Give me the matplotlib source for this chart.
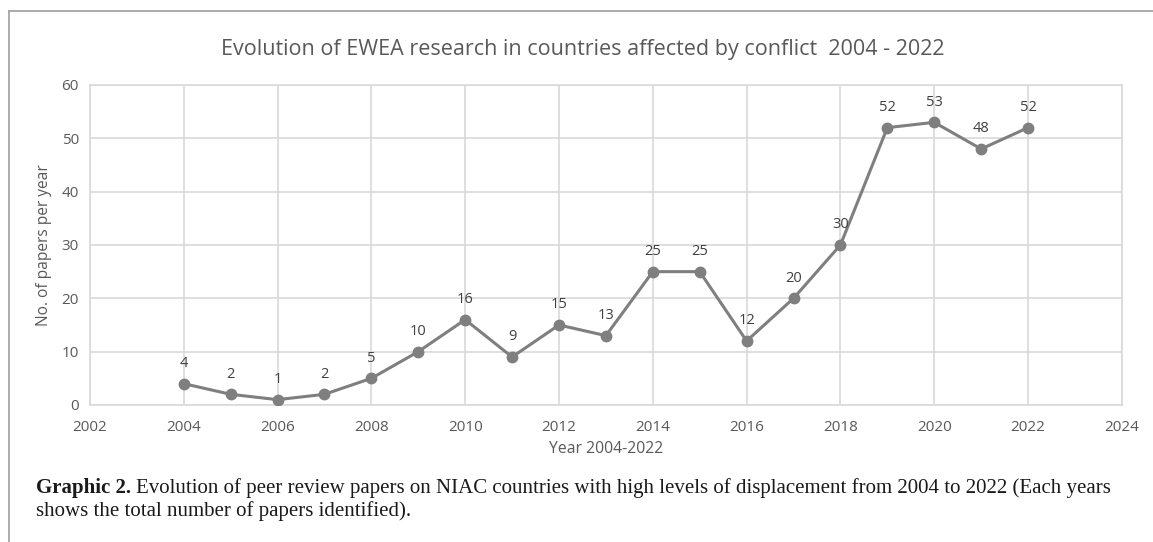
import matplotlib
matplotlib.use("Agg")
import matplotlib.pyplot as plt
from matplotlib.lines import Line2D

# papers per year, 2004-2022
years = [2004, 2005, 2006, 2007, 2008, 2009, 2010, 2011, 2012, 2013,
         2014, 2015, 2016, 2017, 2018, 2019, 2020, 2021, 2022]
papers = [4, 2, 1, 2, 5, 10, 16, 9, 15, 13,
          25, 25, 12, 20, 30, 52, 53, 48, 52]

x_ticks = [2002, 2004, 2006, 2008, 2010, 2012, 2014, 2016, 2018, 2020, 2022, 2024]
y_ticks = [0, 10, 20, 30, 40, 50, 60]

TEXT_GRAY = "#595959"
GRID_GRAY = "#d9d9d9"
LINE_GRAY = "#7f7f7f"

plt.rcParams["font.family"] = ["Open Sans", "DejaVu Sans"]

fig = plt.figure(figsize=(11.53, 5.42), dpi=100)
ax = fig.add_axes([0.078, 0.2528, 0.895, 0.5904])

ax.plot(years, papers, color=LINE_GRAY, linewidth=2.2, marker="o",
        markersize=7.5, markerfacecolor=LINE_GRAY, markeredgecolor=LINE_GRAY,
        zorder=3)

# value labels over each point
for yr, val in zip(years, papers):
    ax.annotate(str(val), (yr, val), xytext=(0, 9), textcoords="offset points",
                ha="center", va="bottom", fontsize=10.5, color="#404040")

ax.set_xlim(2002, 2024)
ax.set_ylim(0, 60)
ax.set_xticks(x_ticks)
ax.set_yticks(y_ticks)
ax.grid(True, color=GRID_GRAY, linewidth=1.2, zorder=0)
for side in ax.spines:
    ax.spines[side].set_color(GRID_GRAY)
    ax.spines[side].set_linewidth(1.2)
ax.tick_params(length=0, labelsize=11, colors=TEXT_GRAY, pad=8)
ax.tick_params(axis="x", pad=11)

ax.set_xlabel("Year 2004-2022", fontsize=11.3, color=TEXT_GRAY, labelpad=4)
ax.set_ylabel("No. of papers per year", fontsize=11.2, color=TEXT_GRAY, labelpad=7)
fig.text(0.505, 0.908, "Evolution of EWEA research in countries affected by conflict  2004 - 2022",
         ha="center", va="center", fontsize=15.5, color=TEXT_GRAY)

# frame around the figure block
fig.add_artist(Line2D([9 / 1153, 9 / 1153], [0, 1 - 11 / 542], color="#a6a6a6", linewidth=1.3))
fig.add_artist(Line2D([9 / 1153, 1], [1 - 11 / 542, 1 - 11 / 542], color="#a6a6a6", linewidth=1.3))

# caption: bold lead-in then regular text
serif = ["Liberation Serif", "DejaVu Serif"]
cx = 36 / 1153
lead = fig.text(cx, 1 - 493 / 542, "Graphic 2.", fontsize=15, fontweight="bold",
                family=serif, va="baseline", color="#1a1a1a")
fig.canvas.draw()
bb = lead.get_window_extent(renderer=fig.canvas.get_renderer())
fig.text(bb.x1 / fig.bbox.width + 5 / 1153, 1 - 493 / 542,
         "Evolution of peer review papers on NIAC countries with high levels of displacement from 2004 to 2022 (Each years",
         fontsize=15, family=serif, va="baseline", color="#1a1a1a")
fig.text(cx, 1 - 516 / 542, "shows the total number of papers identified).",
         fontsize=15, family=serif, va="baseline", color="#1a1a1a")

fig.savefig("out.png", dpi=100)
